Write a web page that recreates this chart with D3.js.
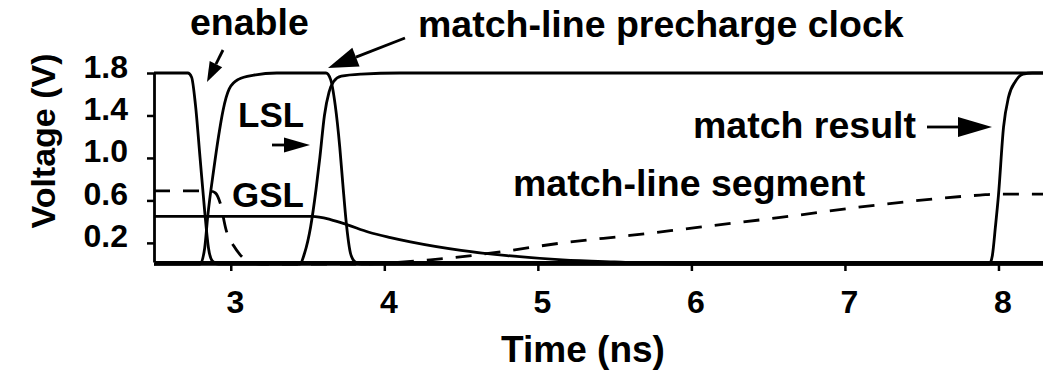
<!DOCTYPE html>
<html>
<head>
<meta charset="utf-8">
<script src="https://cdn.jsdelivr.net/npm/d3@7"></script>
<style>
  body { margin: 0; background: #fff; }
  text { font-family: "Liberation Sans", Arial, sans-serif; font-weight: bold; fill: #000; }
</style>
</head>
<body>
<div id="chart"></div>
<script>
// time (ns), voltage (V)
const enable = [[2.5,1.8],[2.72,1.8],[2.745,1.76],[2.77,1.5],[2.8,1.0],[2.83,0.5],[2.855,0.15],[2.88,0.03],[2.92,0],[8.29,0]];
const precharge = [[2.5,0],[2.8,0],[2.83,0.15],[2.85,0.45],[2.89,0.9],[2.92,1.2],[2.95,1.45],[2.99,1.65],[3.05,1.74],[3.15,1.78],[3.3,1.8],[3.62,1.8],[3.65,1.74],[3.68,1.5],[3.71,1.1],[3.73,0.75],[3.755,0.35],[3.78,0.1],[3.81,0.02],[3.85,0],[8.29,0]];
const lsl = [[2.5,0],[3.45,0],[3.48,0.1],[3.52,0.35],[3.555,0.7],[3.58,1.0],[3.61,1.4],[3.64,1.62],[3.67,1.72],[3.72,1.77],[3.85,1.79],[4.1,1.8],[8.29,1.8]];
const gsl = [[2.5,0.45],[3.53,0.45],[3.65,0.42],[3.76,0.37],[3.9,0.3],[4.04,0.25],[4.17,0.21],[4.5,0.13],[4.8,0.08],[5.16,0.04],[5.5,0.02],[6.0,0],[8.29,0]];
const matchResult = [[2.5,0],[7.94,0],[7.96,0.08],[7.98,0.35],[8.0,0.65],[8.033,1.29],[8.065,1.57],[8.11,1.72],[8.16,1.79],[8.22,1.8],[8.29,1.8]];
const mlSegment = [[2.5,0.69],[2.86,0.69],[2.9,0.67],[2.93,0.58],[2.97,0.32],[3.02,0.17],[3.06,0.09],[3.12,0.02],[3.2,0],[3.8,0],[4.0,0.01],[4.3,0.04],[4.73,0.11],[5.16,0.2],[5.6,0.27],[5.95,0.33],[6.58,0.44],[7.23,0.56],[7.88,0.65],[8.0,0.66],[8.29,0.66]];

const xTicks = [3, 4, 5, 6, 7, 8];
const yTicks = [0.2, 0.6, 1.0, 1.4, 1.8];

const width = 1043, height = 377;

const svg = d3.select("#chart")
    .append("svg")
    .attr("width", width)
    .attr("height", height);

svg.append("rect").attr("width", width).attr("height", height).attr("fill", "#fff");

const x = d3.scaleLinear().domain([2.5, 8.29]).range([154, 1043]);
const y = d3.scaleLinear().domain([0.02, 1.8]).range([262, 73]);

const line = d3.line()
    .x(d => x(d[0]))
    .y(d => y(d[1]))
    .curve(d3.curveMonotoneX);

// solid signals
[enable, precharge, lsl, gsl, matchResult].forEach(s => {
    svg.append("path")
        .datum(s)
        .attr("d", line)
        .attr("fill", "none")
        .attr("stroke", "#000")
        .attr("stroke-width", 2.8);
});

// dashed match-line segment
svg.append("path")
    .datum(mlSegment)
    .attr("d", line)
    .attr("fill", "none")
    .attr("stroke", "#000")
    .attr("stroke-width", 2.8)
    .attr("stroke-dasharray", "16,13");

// axes
const xAxis = svg.append("g")
    .attr("transform", `translate(0,${y(0.02)})`)
    .call(d3.axisBottom(x).tickValues(xTicks).tickFormat(d3.format("d")).tickSize(9).tickSizeOuter(0).tickPadding(19));
xAxis.selectAll("text").attr("dx", 4).style("font-size", "32px");

const yAxis = svg.append("g")
    .attr("transform", `translate(${x(2.5)},0)`)
    .call(d3.axisLeft(y).tickValues(yTicks).tickFormat(d3.format(".1f")).tickSize(7).tickSizeOuter(0).tickPadding(19));
yAxis.selectAll("text").attr("dy", 4).style("font-size", "32px");

[xAxis, yAxis].forEach(a => {
    a.select(".domain").attr("stroke", "#000").attr("stroke-width", 2.8);
    a.selectAll(".tick line").attr("stroke", "#000").attr("stroke-width", 2.5);
});

// axis titles
svg.append("text")
    .attr("x", 583)
    .attr("y", 362)
    .attr("text-anchor", "middle")
    .style("font-size", "37px")
    .text("Time (ns)");

svg.append("text")
    .attr("transform", "translate(55,141) rotate(-90)")
    .attr("text-anchor", "middle")
    .style("font-size", "34px")
    .text("Voltage (V)");

// annotations
const labels = [
    { text: "enable", x: 190, y: 35, size: 37.5 },
    { text: "match-line precharge clock", x: 418, y: 37, size: 37.5 },
    { text: "LSL", x: 238, y: 127, size: 35 },
    { text: "GSL", x: 232, y: 207, size: 35 },
    { text: "match result", x: 693, y: 138, size: 37.5 },
    { text: "match-line segment", x: 513, y: 196, size: 37.5 }
];

labels.forEach(l => {
    svg.append("text")
        .attr("x", l.x)
        .attr("y", l.y)
        .style("font-size", l.size + "px")
        .text(l.text);
});

function arrow(x1, y1, x2, y2, len, half) {
    const a = Math.atan2(y2 - y1, x2 - x1);
    const bx = x2 - len * Math.cos(a), by = y2 - len * Math.sin(a);
    svg.append("line")
        .attr("x1", x1).attr("y1", y1)
        .attr("x2", bx).attr("y2", by)
        .attr("stroke", "#000")
        .attr("stroke-width", 2.8);
    const px = -Math.sin(a) * half, py = Math.cos(a) * half;
    svg.append("path")
        .attr("d", `M${x2},${y2}L${bx + px},${by + py}L${bx - px},${by - py}Z`)
        .attr("fill", "#000");
}

arrow(223, 50, 207, 82, 20, 7);
arrow(405, 38, 328, 68, 30, 10);
arrow(272, 145, 310, 145, 26, 7.5);
arrow(927, 127, 992, 127, 34, 10);
</script>
</body>
</html>
